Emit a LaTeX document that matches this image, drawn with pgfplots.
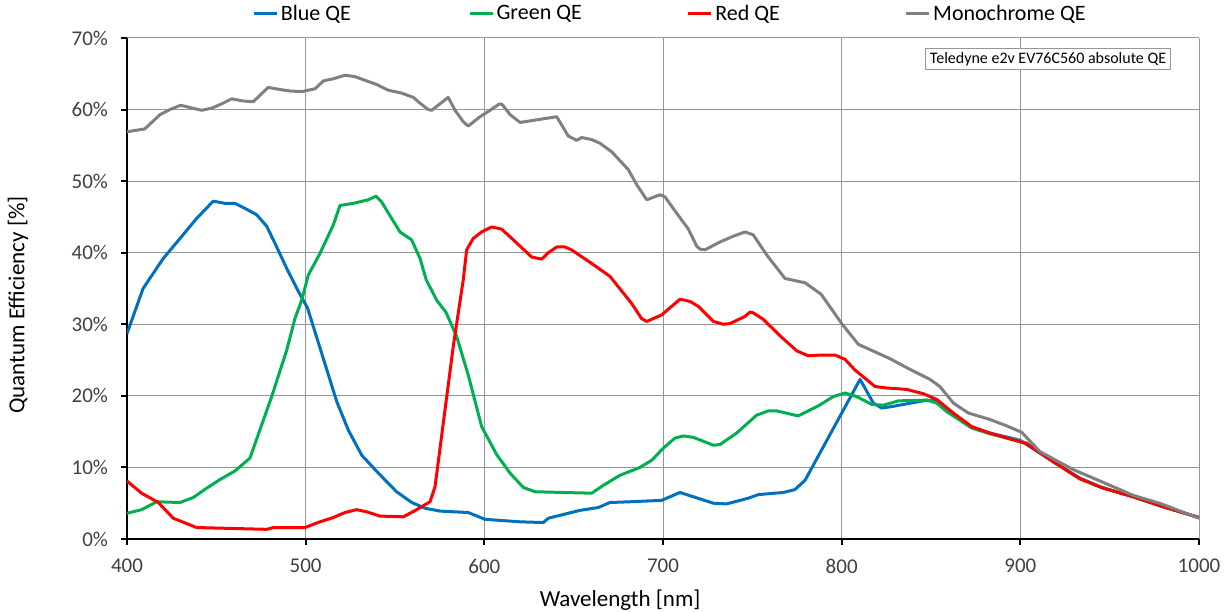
\documentclass[border=0pt]{standalone}
\usepackage{fontspec}
\setmainfont{Carlito}
\usepackage{pgfplots}
\pgfplotsset{compat=1.18}

\definecolor{qeblue}{HTML}{0070C0}
\definecolor{qegreen}{HTML}{00B050}
\definecolor{qered}{HTML}{FF0000}
\definecolor{qegray}{HTML}{808080}
\definecolor{gridgray}{RGB}{150,150,150}
\definecolor{ticktext}{HTML}{404040}

\begin{document}
\begin{tikzpicture}
\begin{axis}[
    scale only axis,
    width=536pt,
    height=250.5pt,
    xmin=400, xmax=1000,
    ymin=0, ymax=70,
    xtick distance=100,
    ytick distance=10,
    axis x line=bottom,
    axis y line=left,
    axis line style={black, line width=1pt, -},
    tick align=outside,
    major tick length=3pt,
    tick style={black, line width=1pt},
    grid=major,
    major grid style={gridgray, line width=0.5pt},
    /pgf/number format/assume math mode=true,
    /pgf/number format/1000 sep={},
    yticklabel={\pgfmathprintnumber{\tick}\%},
    ticklabel style={font=\fontsize{10.5}{12}\selectfont, text=ticktext},
    xticklabel style={yshift=-3.5pt},
    yticklabel style={xshift=-3pt},
    xlabel={Wavelength [nm]},
    ylabel={Quantum Efficiency [\%]},
    label style={font=\fontsize{11.5}{14}\selectfont},
    xlabel style={at={(axis description cs:0.46,-0.1218)}, anchor=center},
    ylabel style={at={(axis description cs:-0.1017,0.467)}, anchor=center},
    legend columns=4,
    legend style={at={(axis description cs:0.1166,1.048)}, anchor=west,
        draw=none, fill=none, inner sep=0pt,
        font=\fontsize{11}{13}\selectfont,
        nodes={inner xsep=1.2pt}},
    legend image code/.code={\draw[#1] (0pt,0pt) -- (11.5pt,0pt);},
    every axis plot/.append style={line width=1.5pt, mark=none, line join=round},
]

\addplot[qeblue] coordinates {
(400,28.7)(409,35.0)(420.3,39.2)(429.7,42.0)(439,44.8)(448.3,47.2)(454.8,46.9)
(460.4,46.9)(466,46.2)(472.6,45.3)(478.2,43.7)(483.8,40.8)(489.4,37.8)(495.9,34.6)
(501,32.3)(509.9,25.2)(517.4,19.2)(523.9,15.2)(531.4,11.7)(540.7,9.2)(550.9,6.6)
(559.4,5.1)(566.8,4.3)(575.2,3.9)(591,3.7)(600.4,2.75)(620,2.4)(633,2.3)(635.8,2.9)
(653.5,4.0)(663.8,4.4)(670.3,5.1)(681.5,5.2)(699.2,5.4)(709.5,6.5)(728.2,5.0)
(735.6,4.9)(747.7,5.7)(753.3,6.2)(767.3,6.5)(773.8,6.9)(779.5,8.2)(810.3,22.3)
(817.7,19.0)(822.4,18.3)(828,18.5)(847.6,19.4)(853.2,19.3)(862,17.5)(871.8,15.7)
(883,14.8)(899.8,13.8)(918.4,10.8)(933.4,8.5)(944.6,7.3)(963.2,5.9)(980,4.5)(1000,3.0)
};
\addlegendentry{\makebox[92.5pt][l]{Blue QE}}

\addplot[qegreen] coordinates {
(400,3.6)(408.2,4.1)(416.6,5.2)(429.7,5.1)(437.1,5.8)(444.6,7.1)(452,8.3)(460.4,9.5)
(468.8,11.3)(481,19.9)(489.4,26.4)(494,30.8)(497.8,33.4)(501.5,36.9)(508,39.9)
(515.5,43.9)(519.2,46.6)(526.7,46.9)(535.1,47.4)(539.4,47.9)(542.5,47.1)(548.1,44.8)
(552.8,42.9)(559.3,41.8)(564,39.2)(567.5,36.2)(573.5,33.3)(578.5,31.7)(584.5,28.3)
(591,22.9)(598.5,15.7)(606.9,11.8)(614.4,9.2)(621.8,7.2)(628.4,6.6)(660.1,6.4)
(666.6,7.5)(675.9,8.9)(687.1,10.0)(693.7,11.0)(700.2,12.7)(706.7,14.1)(711.4,14.4)
(717,14.2)(728.2,13.1)(731.9,13.2)(741.2,14.8)(752.4,17.3)(758.9,17.9)(763.6,17.9)
(775.7,17.2)(786.9,18.6)(795.3,19.9)(801.9,20.4)(808.4,19.9)(816.8,18.8)(823.3,18.7)
(831.7,19.3)(847.6,19.4)(853.2,19.0)(858.8,17.8)(872.8,15.5)(883,14.7)(903.6,13.4)
(918.4,10.8)(933.4,8.4)(946.4,7.1)(963.2,5.9)(980,4.5)(1000,3.0)
};
\addlegendentry{\makebox[94pt][l]{Green QE}}

\addplot[qered] coordinates {
(400,8.1)(408.2,6.4)(417.5,5.1)(425.9,2.9)(439,1.6)(478.2,1.35)(481.9,1.6)(499.6,1.6)
(508,2.4)(515.5,3.0)(522,3.7)(528.5,4.1)(534.2,3.8)(541.6,3.2)(554.7,3.1)(562.1,4.1)
(569.6,5.2)(572.4,7.3)(582.6,26.9)(588.2,36.2)(590.1,40.4)(593.8,42.0)(598.5,42.9)
(604.1,43.6)(609.7,43.3)(616.2,41.8)(626.5,39.4)(632.1,39.1)(635.8,40.0)(640.5,40.8)
(645.1,40.8)(648.8,40.4)(660.1,38.5)(670.3,36.7)(682.5,32.9)(688,30.8)(690.9,30.4)
(699.2,31.3)(709.5,33.5)(715.1,33.2)(719.8,32.5)(728.2,30.4)(733.8,30.0)(737.5,30.1)
(745.9,31.1)(748.7,31.7)(750.5,31.6)(756.1,30.7)(765.5,28.4)(774.8,26.3)(781.3,25.6)
(787.9,25.7)(796.3,25.7)(801.9,25.1)(807.5,23.6)(818.7,21.3)(825.2,21.1)(836.4,20.9)
(845.7,20.3)(853.2,19.5)(862.5,17.6)(872.8,15.7)(883,14.8)(903.6,13.3)(918.4,10.8)
(933.4,8.4)(946.4,7.1)(963.2,5.9)(980,4.5)(1000,3.0)
};
\addlegendentry{\makebox[93.5pt][l]{Red QE}}

\addplot[qegray] coordinates {
(400,56.9)(410,57.3)(418.5,59.3)(424,60.0)(430,60.6)(441.8,59.9)(447.4,60.2)(453,60.8)
(458.6,61.5)(465,61.2)(470.7,61.1)(479,63.1)(485.6,62.8)(491.2,62.6)(497.8,62.5)
(505.2,62.9)(509.9,64.0)(515.5,64.3)(522,64.8)(527.6,64.6)(534.2,64.0)(539.8,63.5)
(546.3,62.7)(553.7,62.3)(560.3,61.7)(564,60.9)(568.6,60.0)(570.5,59.9)(579.8,61.7)
(583.6,59.9)(588.2,58.3)(591,57.7)(597.6,59.0)(603.2,59.9)(608.5,60.8)(610,60.7)
(614.4,59.3)(620,58.2)(640.5,59.0)(647,56.3)(651.7,55.7)(654.5,56.1)(660.1,55.8)
(664.7,55.3)(671.3,54.1)(680.6,51.6)(685.3,49.5)(690.9,47.4)(698.3,48.1)(701.1,47.8)
(707.7,45.5)(714.2,43.3)(718.9,40.9)(720.7,40.5)(723.5,40.4)(731.9,41.5)(739.3,42.3)
(745.9,42.9)(750.5,42.5)(758,39.7)(768.3,36.4)(779.5,35.8)(788.5,34.2)(800,30.1)
(809.3,27.2)(827,25.2)(838.2,23.7)(849.4,22.3)(855,21.3)(862.5,19.0)(870.9,17.6)
(883,16.7)(892.4,15.8)(900.8,14.9)(911,12.2)(929.6,9.7)(944.6,8.1)(963.2,6.1)
(979.1,4.9)(1000,2.9)
};
\addlegendentry{Monochrome QE}

\node[draw=gridgray, fill=white, line width=0.5pt, inner sep=2pt,
      font=\fontsize{8}{9.6}\selectfont] at (axis cs:915.5,67.07)
      {Teledyne e2v EV76C560 absolute QE};
\end{axis}
\pgfresetboundingbox
\path[use as bounding box] (current axis.south west) ++(-63.5pt,-37pt)
    rectangle ([shift={(16.5pt,19pt)}]current axis.north east);
\end{tikzpicture}
\end{document}
